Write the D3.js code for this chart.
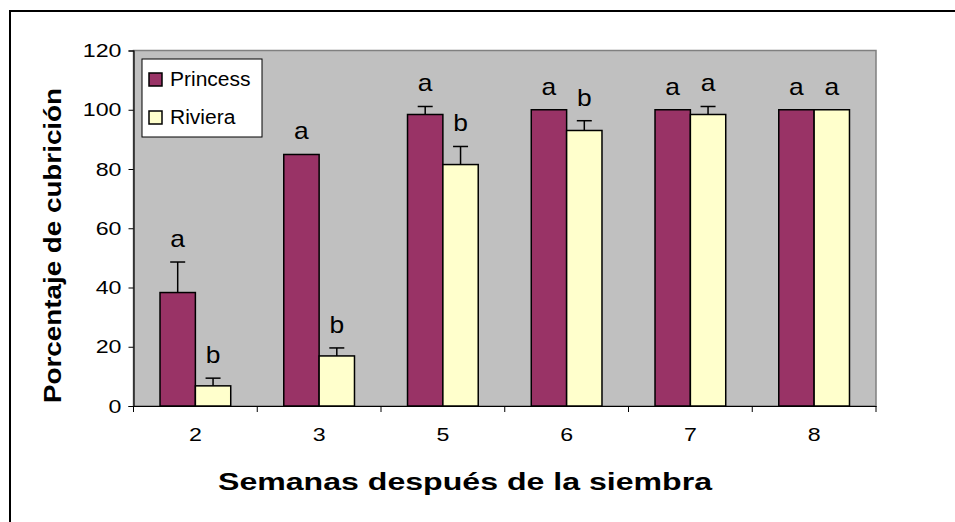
<!DOCTYPE html>
<html><head><meta charset="utf-8">
<script src="https://cdn.jsdelivr.net/npm/d3@7"></script>
<style>body{margin:0;background:#fff}svg{display:block}text{font-family:"Liberation Sans",Arial,sans-serif}</style>
</head><body><svg id="c" width="955" height="522"></svg>
<script>
const categories = ["2","3","5","6","7","8"];
const seriesNames = ["Princess","Riviera"];
const princess = [38.3, 84.9, 98.4, 100, 100, 100];
const princessErr = [10.3, 0, 2.7, 0, 0, 0];
const riviera = [6.8, 16.9, 81.5, 93.0, 98.4, 100];
const rivieraErr = [2.6, 2.7, 6.1, 3.3, 2.7, 0];
const princessLetters = ["a","a","a","a","a","a"];
const rivieraLetters = ["b","b","b","b","a","a"];
const yTicks = [0,20,40,60,80,100,120];
const colors = ["#993366","#FFFFCC"];

const svg = d3.select("#c");
function stretch(sel,k){ sel.each(function(){ const w=this.getComputedTextLength(); d3.select(this).attr("textLength",w*k).attr("lengthAdjust","spacingAndGlyphs"); }); }
// outer frame
svg.append("rect").attr("x",10).attr("y",11).attr("width",1000).attr("height",600)
  .attr("fill","none").attr("stroke","#000").attr("stroke-width",2);

const L=133.5, R=876, T=50.5, B=406;
const x = d3.scaleBand().domain(categories).range([L,R]).paddingInner(0).paddingOuter(0);
const y = d3.scaleLinear().domain([0,120]).range([B,T]);
const bw = x.bandwidth()/3.5;
const xs = d3.scaleBand().domain(seriesNames).range([0,2*bw]);

// plot area
svg.append("rect").attr("x",L).attr("y",T).attr("width",R-L).attr("height",B-T)
  .attr("fill","#C0C0C0").attr("stroke","#808080").attr("stroke-width",1.5);

const data = categories.map((c,i)=>({c, vals:[
  {s:"Princess",v:princess[i],e:princessErr[i],l:princessLetters[i]},
  {s:"Riviera",v:riviera[i],e:rivieraErr[i],l:rivieraLetters[i]}]}));

const g = svg.selectAll("g.grp").data(data).enter().append("g")
  .attr("transform",d=>`translate(${x(d.c)+x.bandwidth()/2-bw},0)`);
const items = g.selectAll("g.it").data(d=>d.vals).enter().append("g");
items.append("line")
  .attr("x1",d=>xs(d.s)+bw/2).attr("x2",d=>xs(d.s)+bw/2)
  .attr("y1",d=>y(d.v)).attr("y2",d=>y(d.v+d.e)).attr("stroke","#000").attr("stroke-width",1.5);
items.append("line").filter(d=>d.e>0)
  .attr("x1",d=>xs(d.s)+bw/2-7.5).attr("x2",d=>xs(d.s)+bw/2+7.5)
  .attr("y1",d=>y(d.v+d.e)).attr("y2",d=>y(d.v+d.e)).attr("stroke","#000").attr("stroke-width",1.5);
items.append("rect")
  .attr("x",d=>xs(d.s)).attr("width",bw)
  .attr("y",d=>y(d.v)).attr("height",d=>y(0)-y(d.v))
  .attr("fill",(d,i)=>colors[i]).attr("stroke","#000").attr("stroke-width",1.5);
items.append("text")
  .attr("x",d=>xs(d.s)+bw/2).attr("y",d=>y(d.v+d.e)-15)
  .attr("text-anchor","middle").attr("font-size",24).text(d=>d.l)
  .call(stretch,1.1);

// axes
const ya = svg.append("g").attr("transform",`translate(${L},0)`)
  .call(d3.axisLeft(y).tickValues(yTicks).tickSize(5).tickPadding(7));
ya.select(".domain").attr("stroke","#000").attr("stroke-width",1.2);
ya.selectAll(".tick line").attr("stroke","#000");
ya.selectAll(".tick text").attr("font-size",19).attr("fill","#000")
  .attr("font-family","Liberation Sans, Arial, sans-serif").call(stretch,1.22);

const xa = svg.append("g").attr("transform",`translate(0,${B})`)
  .call(d3.axisBottom(x).tickSize(0).tickPadding(22));
xa.select(".domain").attr("stroke","#000").attr("stroke-width",1.2);
xa.selectAll(".tick text").attr("font-size",19).attr("fill","#000")
  .attr("font-family","Liberation Sans, Arial, sans-serif").call(stretch,1.22);
svg.append("g").selectAll("line").data(categories.concat(["end"])).enter().append("line")
  .attr("x1",(d,i)=>i<categories.length?x(d):R).attr("x2",(d,i)=>i<categories.length?x(d):R)
  .attr("y1",B).attr("y2",B+6).attr("stroke","#000");

// axis titles
svg.append("text").attr("x",465).attr("y",490).attr("text-anchor","middle")
  .attr("font-weight","bold").attr("font-size",23).attr("textLength",494)
  .attr("lengthAdjust","spacingAndGlyphs").text("Semanas después de la siembra");
svg.append("text").attr("transform","translate(61,245.5) rotate(-90)").attr("text-anchor","middle")
  .attr("font-weight","bold").attr("font-size",24).attr("textLength",315)
  .attr("lengthAdjust","spacingAndGlyphs").text("Porcentaje de cubrición");

// legend
const lg = svg.append("g");
lg.append("rect").attr("x",142).attr("y",59).attr("width",120).attr("height",78)
  .attr("fill","#fff").attr("stroke","#000").attr("stroke-width",1);
const li = lg.selectAll("g").data(seriesNames).enter().append("g")
  .attr("transform",(d,i)=>`translate(149,${73+i*38})`);
li.append("rect").attr("width",13).attr("height",13).attr("fill",(d,i)=>colors[i])
  .attr("stroke","#000").attr("stroke-width",1.5);
li.append("text").attr("x",21).attr("y",12.5).attr("font-size",20).text(d=>d)
  .call(stretch,1.05);
</script></body></html>
